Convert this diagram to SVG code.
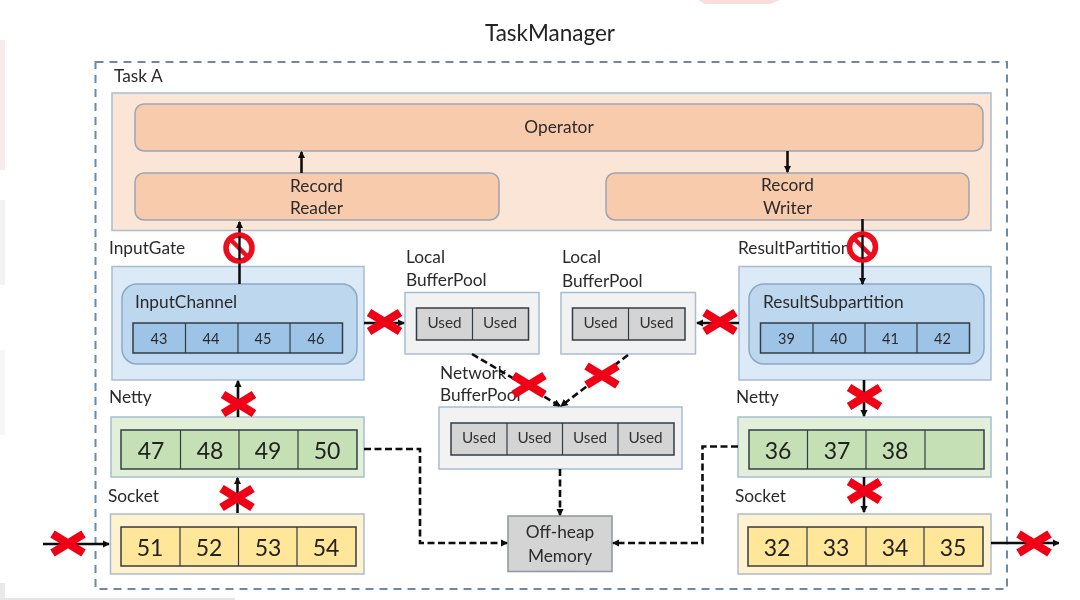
<svg xmlns="http://www.w3.org/2000/svg" width="1080" height="600" viewBox="0 0 1080 600">
<style>
text{font-family:"Lato","Carlito","Open Sans",sans-serif;fill:#2b2b2b;font-size:17.300px}
.c{text-anchor:middle}
.title{font-size:22.500px;fill:#222}
.small{font-size:14.500px}
.used{font-size:15.300px;fill:#333}
.big{font-size:23px;fill:#222}
.outer{fill:none;stroke:#6a8aa8;stroke-width:2;stroke-dasharray:8 6}
.box{stroke:#a9bdd0;stroke-width:1.500}
.peach{fill:#fbe5d6}.op{fill:#f8cbad;stroke:#9aa5b3;stroke-width:1.500}
.lblue{fill:#dce9f6}.mblue{fill:#bdd7ee;stroke:#8aa9c6;stroke-width:1.500}.cblue{fill:#9dc3e6}
.lgreen{fill:#e2f0d9}.cgreen{fill:#c5e0b4}
.lyellow{fill:#fff2cc}.cyellow{fill:#ffe699}
.lgrey{fill:#f2f2f2}.cgrey{fill:#d4d4d4}
.cell{stroke:#333d45;stroke-width:1.500}
.sep{stroke:#333d45;stroke-width:1.200;fill:none}
.ln{fill:none;stroke:#111;stroke-width:2.600}
.ds{fill:none;stroke:#111;stroke-width:2.600;stroke-dasharray:7 3.500}
.xm{fill:none;stroke:#f00612;stroke-width:8.500}
.ring{fill:#fff;stroke:#ee0a1c;stroke-width:5.500}
.slash{stroke:#ee0a1c;stroke-width:4.500}
</style>
<defs>
<filter id="soft" x="0" y="0" width="100%" height="100%" filterUnits="objectBoundingBox"><feGaussianBlur stdDeviation="0.450"/></filter>
<marker id="a" markerWidth="7.500" markerHeight="7.500" refX="6" refY="3.500" orient="auto" markerUnits="userSpaceOnUse" viewBox="0 0 7 7"><path d="M0,0 L7,3.500 L0,7 Z" fill="#111"/></marker>
<g id="x"><path class="xm" d="M-15.500,-9.500 L15.500,9.500 M15.500,-9.500 L-15.500,9.500"/></g>
<g id="no"><circle class="ring" r="13"/></g>
</defs>
<rect width="1080" height="600" fill="#fff"/>
<g filter="url(#soft)">
<g id="edge-residue">
<rect x="0" y="40" width="5" height="130" fill="#f7ecea"/>
<rect x="0" y="200" width="5" height="85" fill="#f3f3f3"/>
<rect x="0" y="350" width="5" height="85" fill="#f6f6f6"/>
<rect x="0" y="583" width="5" height="17" fill="#e9e9e9"/>
<rect x="0" y="598" width="235" height="2" fill="#e6e6e6"/>
<path d="M698,0 H780 L770,4 H705 Z" fill="#fbdcdc"/>
</g>
<text id="title" class="title c" x="550" y="41">TaskManager</text>
<rect id="task-frame" class="outer" x="95.500" y="62" width="911.500" height="527"/>
<text x="114" y="82">Task A</text>

<g id="task-a"><rect class="peach box" x="112" y="93" width="879" height="137.500"/></g>
<g id="operator"><rect class="op" x="135" y="104" width="848" height="47" rx="9"/><text class="c" x="559" y="133">Operator</text></g>
<g id="record-reader"><rect class="op" x="135" y="173" width="364" height="47" rx="9"/><text class="c" x="316.500" y="191.500">Record</text><text class="c" x="316.500" y="213.500">Reader</text></g>
<g id="record-writer"><rect class="op" x="606" y="173" width="363" height="47" rx="9"/><text class="c" x="787.500" y="190.500">Record</text><text class="c" x="787.500" y="213.500">Writer</text></g>

<g id="input-gate">
<text x="109" y="254">InputGate</text>
<rect class="lblue box" x="112" y="266.500" width="252" height="113.500"/>
<rect class="mblue" x="122" y="284" width="235" height="80" rx="15"/>
<text x="135" y="308">InputChannel</text>
<rect class="cblue cell" x="133" y="323" width="209.500" height="30"/>
<path class="sep" d="M185.500,323V353M238,323V353M290,323V353"/>
<text class="small c" x="159" y="344">43</text><text class="small c" x="211" y="344">44</text><text class="small c" x="263" y="344">45</text><text class="small c" x="316" y="344">46</text>
</g>
<g id="result-partition">
<text x="738" y="254">ResultPartition</text>
<rect class="lblue box" x="739" y="266.500" width="252" height="113.500"/>
<rect class="mblue" x="749" y="284" width="235" height="80" rx="15"/>
<text x="763" y="308">ResultSubpartition</text>
<rect class="cblue cell" x="760.500" y="323" width="209" height="30"/>
<path class="sep" d="M813,323V353M865,323V353M917,323V353"/>
<text class="small c" x="786.500" y="344">39</text><text class="small c" x="838.500" y="344">40</text><text class="small c" x="890.500" y="344">41</text><text class="small c" x="942.500" y="344">42</text>
</g>
<g id="netty-left">
<text x="109" y="403">Netty</text>
<rect class="lgreen box" x="111" y="417" width="253" height="60"/>
<rect class="cgreen cell" x="121" y="430" width="236" height="39"/>
<path class="sep" d="M180.500,430V469M239,430V469M298,430V469"/>
<text class="big c" x="151" y="458.500">47</text><text class="big c" x="210" y="458.500">48</text><text class="big c" x="268" y="458.500">49</text><text class="big c" x="327" y="458.500">50</text>
</g>
<g id="netty-right">
<text x="736" y="403">Netty</text>
<rect class="lgreen box" x="738" y="417" width="253" height="60"/>
<rect class="cgreen cell" x="749" y="430" width="235" height="39"/>
<path class="sep" d="M807.500,430V469M866,430V469M925,430V469"/>
<text class="big c" x="778" y="458.500">36</text><text class="big c" x="837" y="458.500">37</text><text class="big c" x="895" y="458.500">38</text>
</g>
<g id="socket-left">
<text x="108" y="502">Socket</text>
<rect class="lyellow box" x="110.500" y="514" width="253.500" height="60"/>
<rect class="cyellow cell" x="121" y="527" width="235" height="39"/>
<path class="sep" d="M180,527V566M238.500,527V566M297,527V566"/>
<text class="big c" x="150" y="555.500">51</text><text class="big c" x="209" y="555.500">52</text><text class="big c" x="268" y="555.500">53</text><text class="big c" x="326" y="555.500">54</text>
</g>
<g id="socket-right">
<text x="735" y="502">Socket</text>
<rect class="lyellow box" x="738" y="514" width="253" height="60"/>
<rect class="cyellow cell" x="748" y="527" width="235" height="39"/>
<path class="sep" d="M807,527V566M866,527V566M924,527V566"/>
<text class="big c" x="777" y="555.500">32</text><text class="big c" x="836" y="555.500">33</text><text class="big c" x="895" y="555.500">34</text><text class="big c" x="953" y="555.500">35</text>
</g>
<g id="local-pool-left">
<text x="406" y="263">Local</text><text x="406" y="286">BufferPool</text>
<rect class="lgrey box" x="405" y="292.500" width="134" height="61.500"/>
<rect class="cgrey cell" x="416.500" y="308" width="112" height="32"/>
<path class="sep" d="M472.500,308V340"/>
<text class="used c" x="444.500" y="328">Used</text><text class="used c" x="500" y="328">Used</text>
</g>
<g id="local-pool-right">
<text x="562" y="263">Local</text><text x="562" y="287">BufferPool</text>
<rect class="lgrey box" x="561" y="292.500" width="134.500" height="61.500"/>
<rect class="cgrey cell" x="572.500" y="308" width="112.500" height="32"/>
<path class="sep" d="M628.500,308V340"/>
<text class="used c" x="600.500" y="328">Used</text><text class="used c" x="656.500" y="328">Used</text>
</g>
<g id="network-pool">
<text x="440" y="379">Network</text><text x="440" y="401">BufferPool</text>
<rect class="lgrey box" x="439" y="407" width="243" height="62"/>
<rect class="cgrey cell" x="451" y="423" width="223" height="32"/>
<path class="sep" d="M507,423V455M562.500,423V455M618,423V455"/>
<text class="used c" x="479" y="443">Used</text><text class="used c" x="534.500" y="443">Used</text><text class="used c" x="590" y="443">Used</text><text class="used c" x="645.500" y="443">Used</text>
</g>
<g id="off-heap">
<rect x="508" y="516" width="104" height="55.500" fill="#d4d4d4" stroke="#8b97a3" stroke-width="1.500"/>
<text class="c" x="560" y="538">Off-heap</text><text class="c" x="560" y="562">Memory</text>
</g>

<g id="connectors">
<path class="ln" marker-end="url(#a)" d="M301.500,173V152"/>
<path class="ln" marker-end="url(#a)" d="M787.500,151V172"/>
<path class="ln" marker-end="url(#a)" d="M239.500,284V222"/>
<path class="ln" marker-end="url(#a)" d="M862.500,219V284"/>
<path class="ln" marker-end="url(#a)" d="M238,417V381"/>
<path class="ln" marker-end="url(#a)" d="M237.500,513V478"/>
<path class="ln" marker-end="url(#a)" d="M43,544H109"/>
<path class="ln" marker-end="url(#a)" d="M364,323H404"/>
<path class="ln" marker-end="url(#a)" d="M739,323H697"/>
<path class="ln" marker-end="url(#a)" d="M864,380V416"/>
<path class="ln" marker-end="url(#a)" d="M864,477V512"/>
<path class="ln" marker-end="url(#a)" d="M991,543H1059"/>
<path class="ds" marker-end="url(#a)" d="M472,354L560,406"/>
<path class="ds" marker-end="url(#a)" d="M628,355L561,406"/>
<path class="ds" marker-end="url(#a)" d="M560,469V515"/>
<path class="ds" marker-end="url(#a)" d="M364,449H420V543H507"/>
<path class="ds" marker-end="url(#a)" d="M738,446.500H702.500V543H613"/>
</g>
<g id="blocked-marks">
<use href="#no" x="239" y="248"/><path class="slash" d="M230,239L248,257"/><path d="M239.500,236V260" stroke="#111" stroke-width="2.400"/>
<use href="#no" x="862.500" y="247"/><path class="slash" d="M853.500,238L871.500,256"/><path d="M862.500,235V259" stroke="#111" stroke-width="2.400"/>
<use href="#x" x="384.500" y="322"/>
<use href="#x" x="720" y="322"/>
<use href="#x" x="529" y="385"/>
<use href="#x" x="602" y="375.500"/>
<use href="#x" x="238.500" y="404"/>
<use href="#x" x="237" y="498"/>
<use href="#x" x="68" y="543.500"/>
<use href="#x" x="864.500" y="397"/>
<use href="#x" x="864.500" y="491"/>
<use href="#x" x="1034" y="543.500"/>
</g>
</g>
</svg>
